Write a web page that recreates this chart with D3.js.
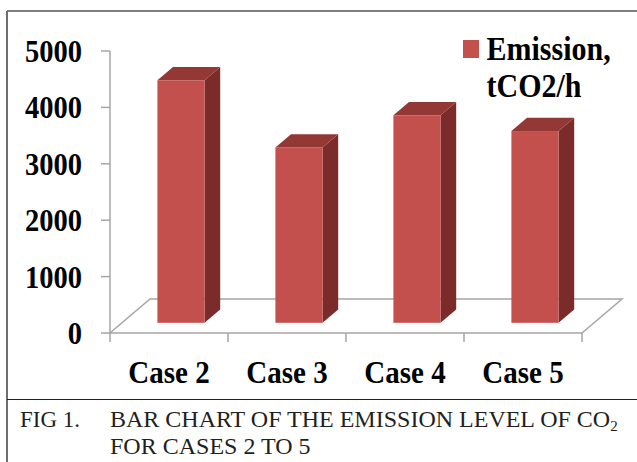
<!DOCTYPE html>
<html>
<head>
<meta charset="utf-8">
<script src="https://cdn.jsdelivr.net/npm/d3@7/dist/d3.min.js"></script>
<style>
  html, body { margin: 0; padding: 0; background: #fff; }
  svg { display: block; }
  .serif { font-family: "Times New Roman", "Liberation Serif", Times, serif; }
</style>
</head>
<body>
<svg id="chart" width="637" height="462"></svg>
<script>
// Emission level of CO2 per case
const categories = ["Case 2", "Case 3", "Case 4", "Case 5"];
const emissions = [4300, 3110, 3680, 3400];
const yTicks = [0, 1000, 2000, 3000, 4000, 5000];
const seriesName = ["Emission,", "tCO2/h"];
const captionNumber = "FIG 1.";
const captionLines = ["BAR CHART OF THE EMISSION LEVEL OF CO", "FOR CASES 2 TO 5"];

const svg = d3.select("#chart");

// Frame around the figure and the caption divider
svg.append("rect").attr("width", 637).attr("height", 462).attr("fill", "#fff");
svg.append("line").attr("x1", 7).attr("x2", 637).attr("y1", 11).attr("y2", 11)
  .attr("stroke", "#555").attr("stroke-width", 1.5);
svg.append("line").attr("x1", 7).attr("x2", 7).attr("y1", 11).attr("y2", 462)
  .attr("stroke", "#6e6e6e").attr("stroke-width", 2);
svg.append("line").attr("x1", 7).attr("x2", 637).attr("y1", 399.5).attr("y2", 399.5)
  .attr("stroke", "#222").attr("stroke-width", 1.2);

// Scales for the front plane of the 3D plot
const x = d3.scaleBand().domain(categories).range([110, 582]).paddingInner(0.6).paddingOuter(0.3);
const xBand = d3.scaleBand().domain(categories).range([110, 582]);
const y = d3.scaleLinear().domain([0, 5000]).range([333, 51]);

// Depth vector of the floor; bars sit between depth fractions t0 and t1
const depth = { dx: 40, dy: -34 };
const t0 = 0.3, t1 = 0.69;
const axisColor = "#a6a6a6";

// Floor outline
const x0 = xBand.range()[0], x1 = xBand.range()[1], yb = y(0);
const floor = [[x0, yb], [x1, yb], [x1 + depth.dx, yb + depth.dy], [x0 + depth.dx, yb + depth.dy]];
svg.append("path")
  .attr("d", "M" + floor.map(p => p.join(",")).join("L") + "Z")
  .attr("fill", "none").attr("stroke", axisColor).attr("stroke-width", 1.5);

// Category tick marks below the floor front edge
svg.append("g").selectAll("line")
  .data(categories.map(c => xBand(c)).concat([x1]))
  .join("line")
  .attr("x1", d => d).attr("x2", d => d)
  .attr("y1", yb).attr("y2", yb + 9)
  .attr("stroke", axisColor).attr("stroke-width", 1.5);

// Value axis
svg.append("line").attr("x1", x0).attr("x2", x0).attr("y1", y(5000)).attr("y2", yb)
  .attr("stroke", axisColor).attr("stroke-width", 1.5);
const yAxis = svg.append("g");
yAxis.selectAll("line").data(yTicks).join("line")
  .attr("x1", x0 - 9).attr("x2", x0).attr("y1", d => y(d)).attr("y2", d => y(d))
  .attr("stroke", axisColor).attr("stroke-width", 1.5);
yAxis.selectAll("text").data(yTicks).join("text")
  .attr("class", "serif")
  .attr("transform", d => `translate(82,${y(d) + 11}) scale(1,1.1)`)
  .attr("text-anchor", "end")
  .attr("font-weight", "bold").attr("font-size", 28.5)
  .attr("fill", "#000")
  .text(d => d);

// 3D bars
const colors = { front: "#c4504e", top: "#943836", side: "#7c2b2b" };
const bars = svg.append("g").selectAll("g").data(categories.map((c, i) => ({ c, v: emissions[i] })))
  .join("g");

function pt(px, py) { return px.toFixed(2) + "," + py.toFixed(2); }
bars.each(function (d) {
  const g = d3.select(this);
  const fx0 = x(d.c) + t0 * depth.dx, fx1 = fx0 + x.bandwidth();
  const fyb = y(0) + t0 * depth.dy, fyt = y(d.v) + t0 * depth.dy;
  const bdx = (t1 - t0) * depth.dx, bdy = (t1 - t0) * depth.dy;
  // side face
  g.append("path")
    .attr("d", `M${pt(fx1, fyt)}L${pt(fx1 + bdx, fyt + bdy)}L${pt(fx1 + bdx, fyb + bdy)}L${pt(fx1, fyb)}Z`)
    .attr("fill", colors.side);
  // top face
  g.append("path")
    .attr("d", `M${pt(fx0, fyt)}L${pt(fx0 + bdx, fyt + bdy)}L${pt(fx1 + bdx, fyt + bdy)}L${pt(fx1, fyt)}Z`)
    .attr("fill", colors.top);
  // front face
  g.append("rect")
    .attr("x", fx0).attr("y", fyt).attr("width", fx1 - fx0).attr("height", fyb - fyt)
    .attr("fill", colors.front);
});

// Category labels
svg.append("g").selectAll("text").data(categories).join("text")
  .attr("class", "serif")
  .attr("transform", d => `translate(${xBand(d) + xBand.bandwidth() / 2},382.5) scale(1,1.1)`)
  .attr("text-anchor", "middle")
  .attr("font-weight", "bold").attr("font-size", 29)
  .attr("fill", "#000")
  .text(d => d);

// Legend
const legend = svg.append("g");
legend.append("rect").attr("x", 463).attr("y", 40).attr("width", 16).attr("height", 18)
  .attr("fill", colors.front);
legend.selectAll("text").data(seriesName).join("text")
  .attr("class", "serif")
  .attr("transform", (d, i) => `translate(486.5,${60 + i * 37}) scale(1,1.12)`)
  .attr("font-weight", "bold").attr("font-size", 30)
  .attr("fill", "#000")
  .text(d => d);

// Caption
const cap = svg.append("g").attr("class", "serif").attr("fill", "#231f20");
cap.append("text").attr("x", 20).attr("y", 426.5).attr("font-size", 23).text(captionNumber);
const l1 = cap.append("text").attr("x", 110).attr("y", 426.5).attr("font-size", 24).text(captionLines[0]);
l1.append("tspan").attr("font-size", 15).attr("dy", 4).text("2");
cap.append("text").attr("x", 110).attr("y", 454).attr("font-size", 24).text(captionLines[1]);
</script>
</body>
</html>
